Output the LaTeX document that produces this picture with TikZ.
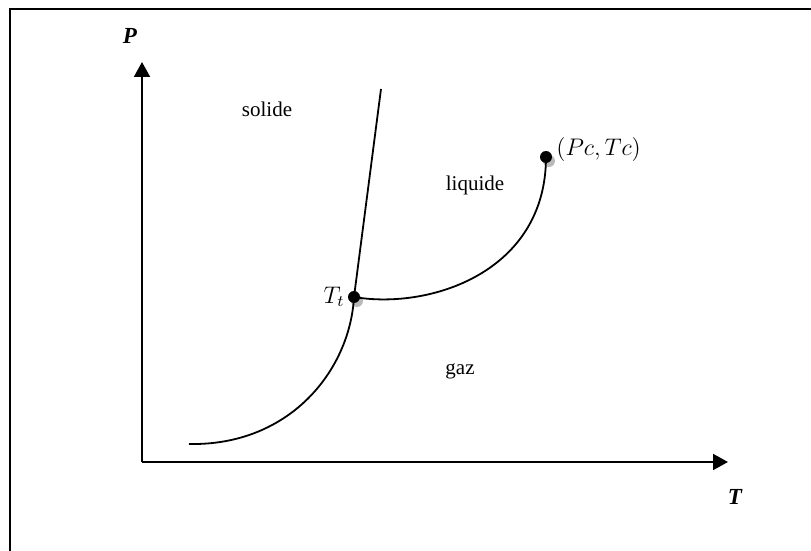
\documentclass[tikz,border=0pt]{standalone}
\usepackage{fontspec}
\setmainfont{Liberation Serif}
\usetikzlibrary{arrows.meta}
\tikzset{
  frameline/.style  = {line width=0.7pt},
  axisline/.style   = {line width=1pt, -{Triangle[length=7.5pt, width=8pt]}},
  phaseline/.style  = {line width=0.9pt},
  phasedot/.style   = {circle, fill=black, inner sep=0pt, minimum size=6pt},
  dotshadow/.style  = {circle, fill=gray!55, inner sep=0pt, minimum size=6pt},
  regionlbl/.style  = {font=\fontsize{10.5}{12}\selectfont, inner sep=0pt},
  axislbl/.style    = {font=\fontsize{11.5}{13}\selectfont\bfseries\itshape, inner sep=0pt},
  pointlbl/.style   = {font=\fontsize{11.5}{13}\selectfont, inner sep=0pt}
}

\begin{document}
\begin{tikzpicture}[x=0.5pt, y=-0.5pt]
  \useasboundingbox (0,0) rectangle (811,551);
  % Frame
  \draw[frameline] (10,551) -- (10,9) -- (811,9);
  % Axes
  \coordinate (O)    at (142,462);
  \coordinate (Ptip) at (142,62);
  \coordinate (Ttip) at (728,462);
  \draw[axisline] (O) -- (Ptip);
  \draw[axisline] (O) -- (Ttip);
  \node[axislbl] (Plbl) at (130,36)  {P};
  \node[axislbl] (Tlbl) at (735,497) {T};
  % Triple and critical points
  \node[dotshadow] (tpsh) at (357,301) {};
  \node[dotshadow] (cpsh) at (549,161) {};
  \node[phasedot]  (tp)   at (354,297) {};
  \node[phasedot]  (cp)   at (546,157) {};
  \node[pointlbl, anchor=east] (tplbl) at (345,297) {$T_t$};
  \node[pointlbl, anchor=west] (cplbl) at (556,150) {$(Pc,Tc)$};
  % Phase boundaries
  \coordinate (sub0) at (189,444);
  \coordinate (fus0) at (381,89);
  \draw[phaseline] (sub0) .. controls (290,446) and (350,370) .. (tp.center);
  \draw[phaseline] (tp.center) -- (fus0);
  \draw[phaseline] (tp.center) .. controls (430,310) and (546,272) .. (cp.center);
  % Regions
  \node[regionlbl] (solid) at (267,109) {solide};
  \node[regionlbl] (liq)   at (475,185) {liquide};
  \node[regionlbl] (gas)   at (460,371) {gaz};
\end{tikzpicture}
\end{document}
